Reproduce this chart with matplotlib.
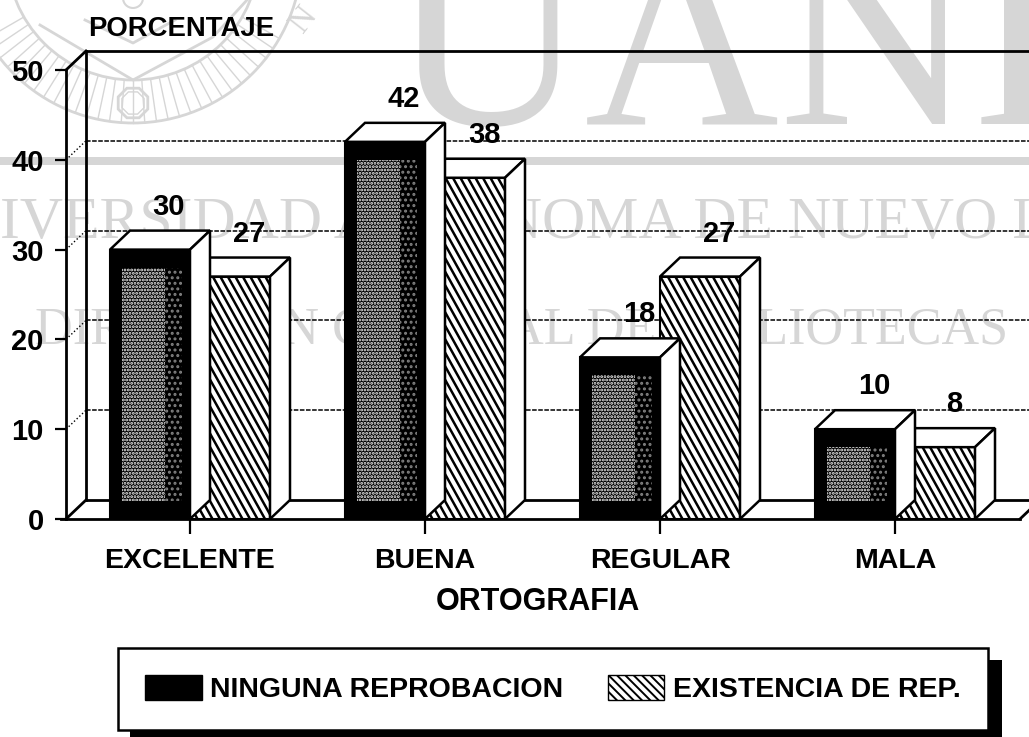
import numpy as np
import matplotlib
matplotlib.use('Agg')
import matplotlib.pyplot as plt
from matplotlib.patches import Circle, Polygon, Rectangle, RegularPolygon, Patch

plt.rcParams['font.family'] = ['Liberation Sans', 'DejaVu Sans']
plt.rcParams['hatch.linewidth'] = 1.4

categories = ['EXCELENTE', 'BUENA', 'REGULAR', 'MALA']
ninguna = [30, 42, 18, 10]
existencia = [27, 38, 27, 8]
y_ticks = [0, 10, 20, 30, 40, 50]
legend_labels = ['NINGUNA REPROBACION', 'EXISTENCIA DE REP.']

W, H = 1029, 737
DX, DY = 20, 19      # depth of the fake 3d, in pixels
GRAY = '#d6d6d6'

fig = plt.figure(figsize=(W / 100, H / 100), dpi=100)
# whole figure in pixels, top left origin: for the watermark and the legend shadow
bg = fig.add_axes([0, 0, 1, 1], zorder=0)
bg.set_xlim(0, W)
bg.set_ylim(H, 0)
bg.axis('off')

# axes: x=66..1020 px, y=519..70 px, categories 235 px apart and the first one at 190 px
ax = fig.add_axes([66 / W, 1 - 519 / H, (1020 - 66) / W, (519 - 70) / H], zorder=1)
ax.patch.set_alpha(0)
ax.set_xlim((66 - 190) / 235, (1020 - 190) / 235)
ax.set_ylim(0, 50)
x_per_px = 1 / 235
y_per_px = 50 / (519 - 70)
ddx, ddy = DX * x_per_px, DY * y_per_px
bar_w = 80 * x_per_px

# watermark: seal
cx, cy = 133, -46
for r in [169, 126]:
    bg.add_patch(Circle((cx, cy), r, fill=False, ec=GRAY, lw=2))
for a in np.radians(np.arange(30, 151, 4)):
    bg.plot([cx + 126 * np.cos(a), cx + 169 * np.cos(a)],
            [cy + 126 * np.sin(a), cy + 169 * np.sin(a)], color=GRAY, lw=1)
bg.plot([40, 133, 213, 247], [25, 80, 37, 0], color=GRAY, lw=2)
bg.plot([85, 133, 175], [20, 43, 20], color=GRAY, lw=2)
bg.add_patch(Circle((133, -2), 10, fill=False, ec=GRAY, lw=1.5))
bg.add_patch(RegularPolygon((133, 103), 8, radius=16, orientation=np.pi / 8, fill=False, ec=GRAY, lw=2))
bg.add_patch(RegularPolygon((133, 103), 8, radius=12, orientation=np.pi / 8, fill=False, ec=GRAY, lw=1))
bg.text(304, 19, 'N', family='Liberation Serif', fontsize=24, color=GRAY, rotation=52,
        ha='center', va='center')
# watermark: letters, band and the two lines
bg.text(390, 124, 'UANL', family='Liberation Serif', fontsize=194, color=GRAY, ha='left', va='baseline')
bg.add_patch(Rectangle((0, 157), W, 8, fc=GRAY, ec='none'))
bg.text(0, 238, 'IVERSIDAD AUTONOMA DE NUEVO L', family='Liberation Serif',
        fontsize=43, color=GRAY, ha='left', va='baseline')
bg.text(35, 343, 'DIRECCION GENERAL DE BIBLIOTECAS', family='Liberation Serif',
        fontsize=37.5, color=GRAY, ha='left', va='baseline')

# walls and floor
x0, x1 = ax.get_xlim()
wall = dict(color='black', lw=2, clip_on=False, zorder=2)
ax.plot([x0, x0], [0, 50], **wall)
ax.plot([x0 + ddx, x0 + ddx], [ddy, 50 + ddy], **wall)
ax.plot([x0, x0 + ddx], [50, 50 + ddy], **wall)
ax.plot([x0 + ddx, x1 + 0.1], [50 + ddy, 50 + ddy], **wall)
ax.plot([x0 - 0.02, x1], [0, 0], **wall)
ax.plot([x0, x0 + ddx], [0, ddy], **wall)
ax.plot([x0 + ddx, x1 + 0.1], [ddy, ddy], **wall)
ax.plot([x1, x1 + ddx], [0, ddy], **wall)
for t in y_ticks[1:-1]:
    ax.plot([x0, x0 + ddx], [t, t + ddy], color='black', lw=1, ls=':', clip_on=False, zorder=2)
    ax.plot([x0 + ddx, x1 + 0.1], [t + ddy, t + ddy], color='black', lw=1.1, ls=(0, (3, 1)),
            clip_on=False, zorder=2)

# ticks
ax.set_yticks(y_ticks)
ax.set_yticklabels([str(t) for t in y_ticks], fontsize=21, fontweight='bold')
ax.set_xticks(range(len(categories)))
ax.set_xticklabels(categories, fontsize=20.5, fontweight='bold')
ax.tick_params(axis='y', length=8, width=1.6, pad=8)
ax.tick_params(axis='x', length=11, width=1.6, pad=10)
for s in ax.spines.values():
    s.set_visible(False)


def faces(left, v, z):
    right = left + bar_w
    top = [(left, v), (left + ddx, v + ddy), (right + ddx, v + ddy), (right, v)]
    side = [(right, v), (right + ddx, v + ddy), (right + ddx, ddy), (right, 0)]
    ax.add_patch(Polygon(top, fc='white', ec='black', lw=1.8, zorder=z))
    ax.add_patch(Polygon(side, fc='white', ec='black', lw=1.8, zorder=z))


def stripes(left, v, patch, z):
    # the scan has steep stripes, steeper than 45 degrees, so no standard hatch fits
    h_px = v / y_per_px
    for s in np.arange(-h_px / 1.8, 80, 7.5):
        line, = ax.plot([left + s * x_per_px, left + (s + h_px / 1.8) * x_per_px], [v, 0],
                        color='black', lw=1.8, zorder=z, solid_capstyle='butt')
        line.set_clip_path(patch)


for i in range(len(categories)):
    # hatched bar first, the dark bar's side falls on it
    left = i
    bars = ax.bar(left, existencia[i], bar_w, align='edge', color='white', edgecolor='black', lw=1.5, zorder=3)
    stripes(left, existencia[i], bars[0], 3)
    faces(left, existencia[i], 3)

    left = i - bar_w
    ax.bar(left, ninguna[i], bar_w, align='edge', color='black', edgecolor='black', lw=1.5, zorder=4)
    faces(left, ninguna[i], 4)
    # stipple in the middle of the dark bar, thinner on the right
    my = 18 * y_per_px
    ax.bar(left + 12 * x_per_px, ninguna[i] - 2 * my, 43 * x_per_px, bottom=my, align='edge', color='black',
           edgecolor='#f4f4f4', hatch='.....', lw=0, zorder=4)
    ax.bar(left + 55 * x_per_px, ninguna[i] - 2 * my, 17 * x_per_px, bottom=my, align='edge', color='black',
           edgecolor='#808080', hatch='...', lw=0, zorder=4)

    ax.text(i - bar_w + 59 * x_per_px, ninguna[i] + ddy + 24 * y_per_px, str(ninguna[i]),
            fontsize=21, fontweight='bold', ha='center', va='center', zorder=6)
    ax.text(i + 59 * x_per_px, existencia[i] + ddy + 24 * y_per_px, str(existencia[i]),
            fontsize=21, fontweight='bold', ha='center', va='center', zorder=6)

fig.text(88 / W, 1 - 36 / H, 'PORCENTAJE', fontsize=19.8, fontweight='bold', ha='left', va='baseline')
ax.set_xlabel('ORTOGRAFIA', fontsize=22, fontweight='bold')
ax.xaxis.set_label_coords((538 - 66) / (1020 - 66), -(602 - 519) / (519 - 70), transform=ax.transAxes)
ax.xaxis.label.set_va('center')

# legend shadow then the legend
bg.add_patch(Rectangle((130, 660), 872, 90, fc='black', ec='none'))
handles = [Patch(fc='black', ec='black'), Patch(fc='white', ec='black', hatch='\\\\\\\\')]
leg = fig.legend(handles, legend_labels, ncol=2, loc='upper left', bbox_to_anchor=(118 / W, 1 - 648 / H),
                 fancybox=False, framealpha=1, edgecolor='black', borderaxespad=0, borderpad=0.94,
                 handlelength=2.0, handleheight=1.0, handletextpad=0.3, columnspacing=1.55,
                 prop={'size': 20.5, 'weight': 'bold'})
leg.get_frame().set_linewidth(1.8)

fig.savefig('out.png', dpi=100)
